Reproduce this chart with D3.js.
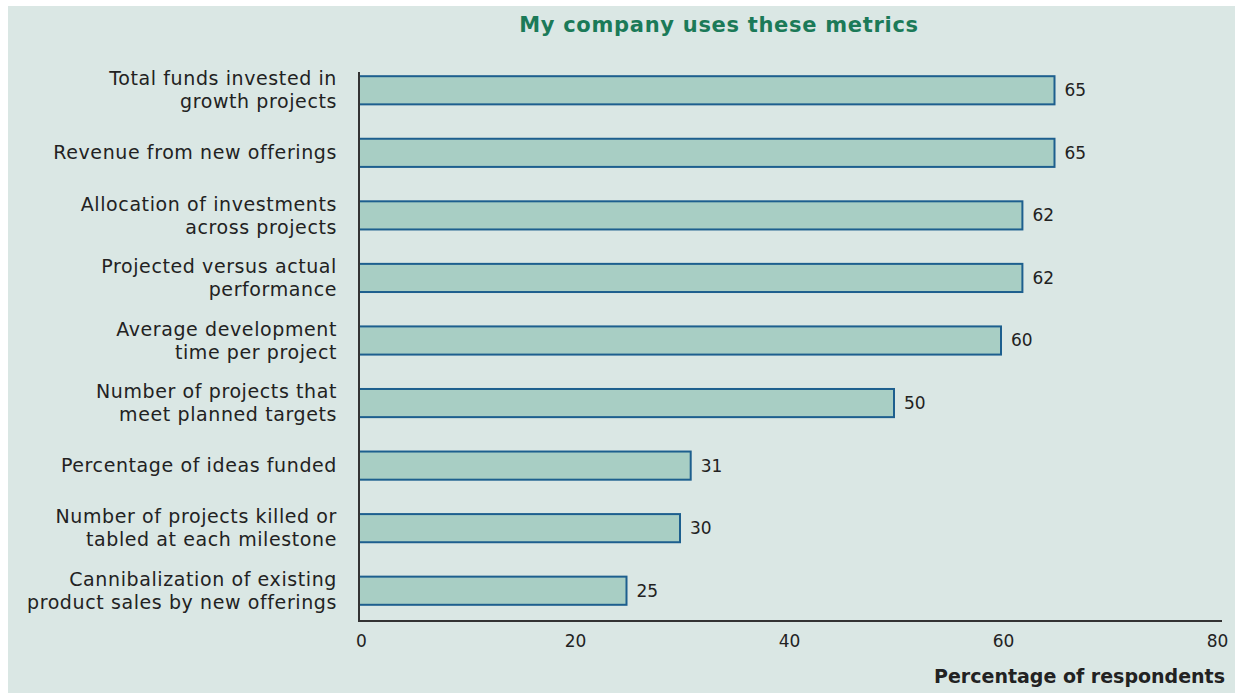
<!DOCTYPE html>
<html>
<head>
<meta charset="utf-8">
<script src="https://cdn.jsdelivr.net/npm/d3@7"></script>
<style>
  html, body { margin: 0; padding: 0; background: #ffffff; }
  svg { display: block; }
</style>
</head>
<body>
<svg id="chart" width="1235" height="693"></svg>
<script>
// Metrics, each label split into its display lines
const categories = [
  ["Total funds invested in", "growth projects"],
  ["Revenue from new offerings"],
  ["Allocation of investments", "across projects"],
  ["Projected versus actual", "performance"],
  ["Average development", "time per project"],
  ["Number of projects that", "meet planned targets"],
  ["Percentage of ideas funded"],
  ["Number of projects killed or", "tabled at each milestone"],
  ["Cannibalization of existing", "product sales by new offerings"]
];
const values = [65, 65, 62, 62, 60, 50, 31, 30, 25];
const xTicks = [0, 20, 40, 60, 80];

const title = "My company uses these metrics";
const xTitle = "Percentage of respondents";

const W = 1235, H = 693;
const font = "'DejaVu Sans', sans-serif";
const svg = d3.select("#chart");

// panel background
svg.append("rect")
  .attr("x", 8).attr("y", 6)
  .attr("width", W - 8).attr("height", H - 6)
  .attr("fill", "#dae7e4");

const x = d3.scaleLinear().domain([0, 80]).range([359, 1215]);
const y = d3.scaleBand()
  .domain(d3.range(categories.length))
  .range([59, 622])
  .paddingInner(0.55)
  .paddingOuter(0.275);

// title
svg.append("text")
  .attr("x", 719).attr("y", 32)
  .attr("text-anchor", "middle")
  .attr("font-family", font)
  .attr("font-size", 21)
  .attr("font-weight", "bold")
  .attr("letter-spacing", 0.7)
  .attr("fill", "#1b7a58")
  .text(title);

// bars
svg.append("g").selectAll("rect")
  .data(values)
  .join("rect")
  .attr("x", x(0))
  .attr("y", (d, i) => y(i))
  .attr("width", d => x(d) - x(0))
  .attr("height", y.bandwidth())
  .attr("fill", "#a8cec4")
  .attr("stroke", "#1d5f8e")
  .attr("stroke-width", 2);

// value labels
svg.append("g").selectAll("text")
  .data(values)
  .join("text")
  .attr("x", d => x(d) + 10)
  .attr("y", (d, i) => y(i) + y.bandwidth() / 2)
  .attr("dy", "0.35em")
  .attr("font-family", font)
  .attr("font-size", 17)
  .attr("fill", "#222")
  .text(d => d);

// category labels
const lineH = 23;
const catG = svg.append("g");
categories.forEach((lines, i) => {
  const cy = y(i) + y.bandwidth() / 2;
  const t = catG.append("text")
    .attr("text-anchor", "end")
    .attr("font-family", font)
    .attr("font-size", 19)
    .attr("letter-spacing", 0.6)
    .attr("fill", "#222");
  lines.forEach((ln, j) => {
    t.append("tspan")
      .attr("x", 337)
      .attr("y", cy + (j - (lines.length - 1) / 2) * lineH)
      .attr("dy", "0.35em")
      .text(ln);
  });
});

// axes
const xAxis = d3.axisBottom(x).tickValues(xTicks).tickSize(0).tickPadding(14);
const gx = svg.append("g")
  .attr("transform", "translate(2,621)")
  .call(xAxis);
gx.select(".domain").remove();
gx.selectAll("text")
  .attr("font-family", font)
  .attr("font-size", 17)
  .attr("fill", "#222");

svg.append("line")
  .attr("x1", 359).attr("x2", 1222)
  .attr("y1", 621).attr("y2", 621)
  .attr("stroke", "#333").attr("stroke-width", 2);
svg.append("line")
  .attr("x1", 359).attr("x2", 359)
  .attr("y1", 72).attr("y2", 622)
  .attr("stroke", "#333").attr("stroke-width", 2);

// x axis title
svg.append("text")
  .attr("x", 1225).attr("y", 683)
  .attr("text-anchor", "end")
  .attr("font-family", font)
  .attr("font-size", 19)
  .attr("font-weight", "bold")
  .attr("fill", "#222")
  .text(xTitle);
</script>
</body>
</html>
